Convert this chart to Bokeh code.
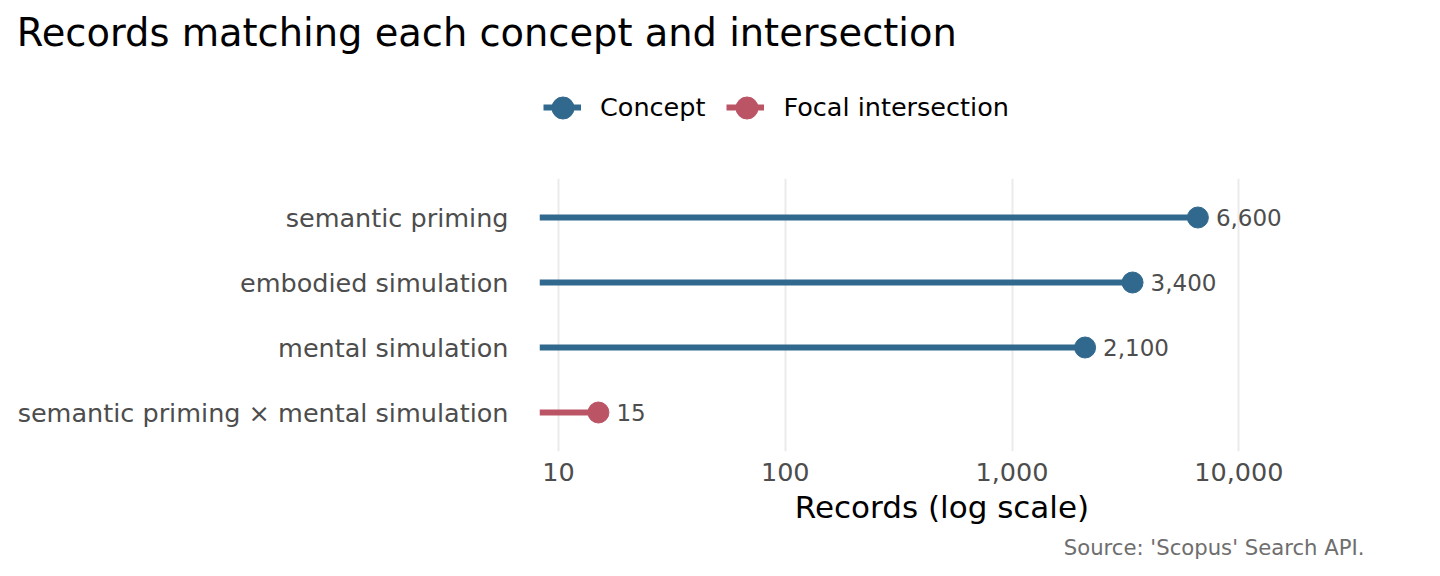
from bokeh.plotting import figure
from bokeh.layouts import column
from bokeh.models import (ColumnDataSource, FixedTicker, NumeralTickFormatter, Range1d,
                          Legend, LegendItem, Title)
from bokeh.core.properties import value
from bokeh.embed import file_html
from bokeh.resources import INLINE

# ---- data ----
categories = ["semantic priming", "embodied simulation", "mental simulation",
              "semantic priming \u00d7 mental simulation"]
records = [6600, 3400, 2100, 15]
groups = ["Concept", "Concept", "Concept", "Focal intersection"]
group_names = ["Concept", "Focal intersection"]
x_ticks = [10, 100, 1000, 10000]

title_text = "Records matching each concept and intersection"
x_title = "Records (log scale)"
caption = "Source: 'Scopus' Search API."

COLORS = {"Concept": "#31688E", "Focal intersection": "#BB5566"}
FONT = "DejaVu Sans"
W = 1432
FRAME_L, FRAME_R = 539, 1344

n = len(categories)
ypos = [n - i for i in range(n)]  # top to bottom
X_START = 10 ** 0.9162
X_END = 10 ** 4.4661

sources = {}
for g in group_names:
    idx = [i for i in range(n) if groups[i] == g]
    sources[g] = ColumnDataSource(dict(
        y=[ypos[i] for i in idx],
        x=[records[i] for i in idx],
        x0=[X_START for i in idx],
        lab=[f"{records[i]:,}" for i in idx],
    ))

# ---------------- header: title + legend ----------------
head = figure(width=W, height=170, x_range=Range1d(0, 1), y_range=Range1d(0, 1),
              x_axis_location=None, y_axis_location=None,
              output_backend="svg", toolbar_location=None,
              min_border_left=0, min_border_right=0,
              min_border_top=0, min_border_bottom=0)
head.outline_line_color = None
head.grid.visible = False
head.add_layout(Title(text=title_text, align="left", offset=16.3 - FRAME_L,
                      text_font_size="38.4px", text_font=FONT, text_font_style="normal",
                      text_color="black", standoff=14), "above")

line_items = []
dot_renderers = {}
for g in group_names:
    # legend keys (their data lies outside this header's ranges)
    ln = head.segment(x0="x0", y0="y", x1="x", y1="y", source=sources[g],
                      line_color=COLORS[g], line_width=6)
    sc = head.scatter(x="x", y="y", source=sources[g], size=21, marker="circle",
                      fill_color=COLORS[g], line_color=COLORS[g])
    line_items.append(LegendItem(label=g, renderers=[ln]))
    dot_renderers[g] = sc

legend_style = dict(orientation="horizontal", padding=0, margin=0,
                    label_text_font_size="25.5px", label_text_font=FONT,
                    label_text_color="black", label_text_baseline="middle",
                    border_line_color=None, background_fill_alpha=0)

legend = Legend(items=line_items, location=(4, 48), spacing=21, label_standoff=19,
                glyph_width=38, glyph_height=30, label_height=30, **legend_style)
head.add_layout(legend)

# larger dots on the legend keys (centred on each key line)
dot_x = {"Concept": 562 - 27.5 - FRAME_L, "Focal intersection": 746 - 27.5 - FRAME_L}
for g in group_names:
    head.add_layout(Legend(items=[LegendItem(label=" ", renderers=[dot_renderers[g]])],
                           location=(dot_x[g], 35.5), spacing=0, label_standoff=0,
                           glyph_width=55, glyph_height=55, label_height=55,
                           label_width=0, **legend_style))

# ---------------- main plot ----------------
p = figure(width=W, height=398, x_axis_type="log",
           x_range=Range1d(X_START, X_END), y_range=Range1d(0.4, n + 0.6),
           output_backend="svg", toolbar_location=None,
           min_border_left=FRAME_L, min_border_right=W - FRAME_R,
           min_border_top=8, min_border_bottom=398 - 8 - 273)
p.outline_line_color = None

for g in group_names:
    src = sources[g]
    p.segment(x0="x0", y0="y", x1="x", y1="y", source=src,
              line_color=COLORS[g], line_width=6)
    p.scatter(x="x", y="y", source=src, size=21, marker="circle",
              fill_color=COLORS[g], line_color=COLORS[g])
    p.text(x="x", y="y", text="lab", source=src, x_offset=18,
           text_baseline="middle", text_align="left",
           text_font_size="23px", text_color="#4D4D4D", text_font=value(FONT))

p.xaxis.ticker = FixedTicker(ticks=x_ticks)
p.xaxis.formatter = NumeralTickFormatter(format="0,0")
p.xaxis.axis_line_color = None
p.xaxis.major_tick_line_color = None
p.xaxis.minor_tick_line_color = None
p.xaxis.major_tick_out = 0
p.xaxis.major_tick_in = 0
p.xaxis.major_label_text_font_size = "25.5px"
p.xaxis.major_label_text_color = "#4D4D4D"
p.xaxis.major_label_text_font = FONT
p.xaxis.major_label_standoff = 11
p.xaxis.axis_label = x_title
p.xaxis.axis_label_text_font_size = "31px"
p.xaxis.axis_label_text_font = FONT
p.xaxis.axis_label_text_font_style = "normal"
p.xaxis.axis_label_text_color = "black"
p.xaxis.axis_label_standoff = 5

p.yaxis.ticker = FixedTicker(ticks=ypos)
p.yaxis.major_label_overrides = {ypos[i]: categories[i] for i in range(n)}
p.yaxis.axis_line_color = None
p.yaxis.major_tick_line_color = None
p.yaxis.minor_tick_line_color = None
p.yaxis.major_tick_out = 0
p.yaxis.major_tick_in = 0
p.yaxis.major_label_text_font_size = "25.5px"
p.yaxis.major_label_text_color = "#4D4D4D"
p.yaxis.major_label_text_font = FONT
p.yaxis.major_label_standoff = 31

p.xgrid.grid_line_color = "#EBEBEB"
p.xgrid.grid_line_width = 2
p.ygrid.visible = False

p.add_layout(Title(text=caption, align="right", offset=FRAME_R - 1364,
                   text_font_size="21.2px", text_font=FONT, text_font_style="normal",
                   text_color="#6E6E6E", standoff=10), "below")

layout = column(head, p, spacing=0)
open("out.html", "w").write(file_html(layout, INLINE))
